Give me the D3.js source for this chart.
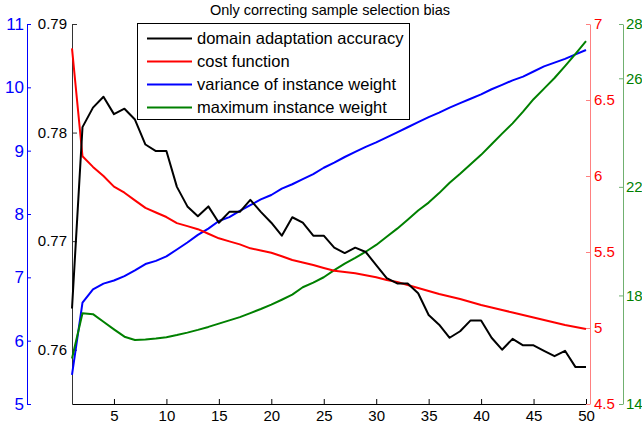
<!DOCTYPE html>
<html><head><meta charset="utf-8">
<script src="https://cdn.jsdelivr.net/npm/d3@7"></script>
<style>body{margin:0;background:#fff;}svg{display:block;font-family:"Liberation Sans",Arial,sans-serif;}</style>
</head><body><div id="chart"></div>
<script>
const iterations = d3.range(1, 51);
const accuracy = [0.7638,0.7805,0.7823,0.7833,0.7817,0.7822,0.7812,0.7789,0.7783,0.7783,
0.7750,0.7732,0.7723,0.7732,0.7717,0.7727,0.7727,0.7738,0.7727,0.7717,
0.7705,0.7722,0.7717,0.7705,0.7705,0.7694,0.7689,0.7694,0.7690,0.7678,
0.7666,0.7661,0.7661,0.7652,0.7632,0.7623,0.7611,0.7617,0.7627,0.7627,
0.7611,0.7600,0.7610,0.7604,0.7604,0.7599,0.7594,0.7599,0.7584,0.7584];
const cost = [6.84,6.13,6.06,6.00,5.93,5.89,5.84,5.79,5.76,5.73,
5.69,5.67,5.65,5.62,5.59,5.57,5.55,5.524,5.51,5.495,
5.472,5.447,5.431,5.414,5.395,5.377,5.368,5.36,5.347,5.334,
5.316,5.303,5.283,5.263,5.243,5.224,5.207,5.191,5.171,5.151,
5.135,5.118,5.102,5.086,5.069,5.053,5.036,5.02,5.007,4.993];
const variance = [5.46,6.60,6.81,6.90,6.95,7.02,7.11,7.21,7.26,7.33,
7.44,7.55,7.67,7.77,7.89,7.95,8.05,8.14,8.23,8.30,
8.40,8.47,8.55,8.63,8.73,8.81,8.90,8.98,9.06,9.13,
9.21,9.29,9.37,9.45,9.53,9.60,9.68,9.75,9.82,9.89,
9.97,10.04,10.11,10.17,10.25,10.33,10.39,10.45,10.52,10.59];
const maxWeight = [15.68,17.34,17.31,17.03,16.75,16.48,16.36,16.38,16.41,16.46,
16.54,16.63,16.73,16.84,16.96,17.08,17.20,17.35,17.50,17.66,
17.84,18.03,18.30,18.47,18.67,18.93,19.17,19.38,19.61,19.86,
20.16,20.46,20.79,21.13,21.42,21.77,22.15,22.48,22.83,23.18,
23.57,23.96,24.34,24.77,25.23,25.62,26.01,26.45,26.90,27.37];
const xTicks = [5,10,15,20,25,30,35,40,45,50];
const accTicks = [0.76,0.77,0.78,0.79];
const varTicks = [5,6,7,8,9,10,11];
const costTicks = [4.5,5,5.5,6,6.5,7];
const maxTicks = [14,18,22,26,28];
const legendLabels = ["domain adaptation accuracy","cost function","variance of instance weight","maximum instance weight"];
const chartTitle = "Only correcting sample selection bias";

(function(){
const W = 642, H = 424;
const pTop = 24, pBottom = 404, pLeft = 72, pRight = 586;
const svg = d3.select("#chart").append("svg").attr("width", W).attr("height", H);

const x = d3.scaleLinear().domain([1, 50]).range([pLeft, pRight]);
const yAcc = d3.scaleLinear().domain([0.755, 0.79]).range([pBottom, pTop]);
const yVar = d3.scaleLinear().domain([5, 11]).range([pBottom, pTop]);
const yCost = d3.scaleLinear().domain([4.5, 7]).range([pBottom, pTop]);
const yMax = d3.scaleLinear().domain([14, 28]).range([pBottom, pTop]);

function styleAxis(g, lineColor, textColor, size) {
  g.select(".domain").attr("stroke", lineColor);
  g.selectAll(".tick line").attr("stroke", lineColor);
  g.selectAll(".tick text").attr("fill", textColor).style("font-size", size + "px").style("font-family", '"Liberation Sans",Arial,sans-serif');
}

const gx = svg.append("g").attr("transform", `translate(0,${pBottom})`)
  .call(d3.axisBottom(x).tickValues(xTicks).tickSizeInner(-5).tickSizeOuter(0).tickPadding(6).tickFormat(d3.format("d")));
styleAxis(gx, "#000", "#000", 15);

const gAcc = svg.append("g").attr("transform", `translate(${pLeft},0)`)
  .call(d3.axisLeft(yAcc).tickValues(accTicks).tickSizeInner(-5).tickSizeOuter(0).tickPadding(5).tickFormat(d3.format(".2f")));
styleAxis(gAcc, "#333", "#000", 15);

const gVar = svg.append("g").attr("transform", `translate(27,0)`)
  .call(d3.axisLeft(yVar).tickValues(varTicks).tickSizeInner(-4).tickSizeOuter(0).tickPadding(3).tickFormat(d3.format("d")));
styleAxis(gVar, "#0000ff", "#0000ff", 17);

const gCost = svg.append("g").attr("transform", `translate(590,0)`)
  .call(d3.axisRight(yCost).tickValues(costTicks).tickSizeInner(-4).tickSizeOuter(0).tickPadding(4).tickFormat(d => d % 1 === 0 ? d3.format("d")(d) : d3.format(".1f")(d)));
styleAxis(gCost, "#ff8080", "#ff0000", 15);

const gMax = svg.append("g").attr("transform", `translate(623,0)`)
  .call(d3.axisRight(yMax).tickValues(maxTicks).tickSizeInner(-4).tickSizeOuter(0).tickPadding(3).tickFormat(d3.format("d")));
styleAxis(gMax, "#70b070", "#008000", 15);

function drawLine(data, yScale, color) {
  const line = d3.line().x((d, i) => x(iterations[i])).y(d => yScale(d));
  svg.append("path").datum(data).attr("d", line)
    .attr("fill", "none").attr("stroke", color).attr("stroke-width", 2)
    .attr("stroke-linejoin", "round");
}
drawLine(variance, yVar, "#0000ff");
drawLine(maxWeight, yMax, "#008000");
drawLine(cost, yCost, "#ff0000");
drawLine(accuracy, yAcc, "#000000");

svg.append("text").attr("x", 330).attr("y", 15).attr("text-anchor", "middle")
  .style("font-size", "14.5px").attr("fill", "#000").text(chartTitle);

const lg = svg.append("g");
lg.append("rect").attr("x", 137.5).attr("y", 23.5).attr("width", 272).attr("height", 96)
  .attr("fill", "#fff").attr("stroke", "#000").attr("stroke-width", 1);
const legendColors = ["#000000", "#ff0000", "#0000ff", "#008000"];
legendLabels.forEach((lab, i) => {
  const yy = 38.5 + i * 23;
  lg.append("line").attr("x1", 147).attr("x2", 192).attr("y1", yy).attr("y2", yy)
    .attr("stroke", legendColors[i]).attr("stroke-width", 2);
  lg.append("text").attr("x", 197).attr("y", yy).attr("dy", "0.35em")
    .style("font-size", "16.5px").attr("fill", "#000").text(lab);
});
})();
</script></body></html>
